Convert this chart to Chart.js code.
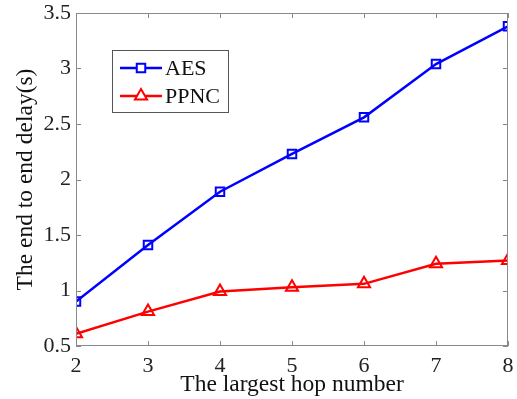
<!DOCTYPE html>
<html><head><meta charset="utf-8">
<script src="https://cdn.jsdelivr.net/npm/chart.js@4/dist/chart.umd.min.js"></script>
<style>html,body{margin:0;padding:0;background:#fff}#wrap{width:517px;height:399px}</style>
</head><body><div id="wrap"><canvas id="c" width="517" height="399"></canvas></div>
<script>
const hops = [2, 3, 4, 5, 6, 7, 8];
const aes = [0.90, 1.41, 1.89, 2.23, 2.56, 3.04, 3.38];
const ppnc = [0.61, 0.81, 0.99, 1.03, 1.06, 1.24, 1.27];
const yTicks = [0.5, 1, 1.5, 2, 2.5, 3, 3.5];
const xTitle = 'The largest hop number';
const yTitle = 'The end to end delay(s)';
const seriesNames = ['AES', 'PPNC'];

const FONT = 'Liberation Serif';

const framePlugin = {
  id: 'frame',
  afterDraw(chart) {
    const ctx = chart.ctx, a = chart.chartArea;
    const xs = chart.scales.x, ys = chart.scales.y;
    ctx.save();
    ctx.strokeStyle = '#8a8a8a';
    ctx.lineWidth = 1;
    ctx.strokeRect(a.left + 0.5, a.top + 0.5, a.right - a.left - 1, a.bottom - a.top - 1);
    const L = 5;
    ctx.beginPath();
    hops.forEach(v => {
      const px = Math.round(xs.getPixelForValue(v)) + 0.5;
      ctx.moveTo(px, a.bottom); ctx.lineTo(px, a.bottom - L);
      ctx.moveTo(px, a.top); ctx.lineTo(px, a.top + L);
    });
    yTicks.forEach(v => {
      const py = Math.round(ys.getPixelForValue(v)) + 0.5;
      ctx.moveTo(a.left, py); ctx.lineTo(a.left + L, py);
      ctx.moveTo(a.right, py); ctx.lineTo(a.right - L, py);
    });
    ctx.stroke();
    // legend box
    const bx = 112, by = 50, bw = 116, bh = 62;
    ctx.fillStyle = '#fff';
    ctx.fillRect(bx, by, bw, bh);
    ctx.strokeStyle = '#555';
    ctx.strokeRect(bx + 0.5, by + 0.5, bw, bh);
    chart.data.datasets.forEach((ds, i) => {
      const yy = 68 + i * 28;
      ctx.strokeStyle = ds.borderColor;
      ctx.lineWidth = 2.5;
      ctx.beginPath(); ctx.moveTo(120, yy); ctx.lineTo(162, yy); ctx.stroke();
      ctx.lineWidth = 2;
      ctx.fillStyle = '#fff';
      Chart.helpers.drawPoint(ctx, {pointStyle: ds.pointStyle, radius: ds.pointRadius, rotation: 0, borderWidth: 2}, 141, yy);
      ctx.fillStyle = '#111';
      ctx.font = '22px "' + FONT + '"';
      ctx.textBaseline = 'middle';
      ctx.textAlign = 'left';
      ctx.fillText(ds.label, 165, yy + 1);
    });
    ctx.restore();
  }
};

new Chart(document.getElementById('c'), {
  type: 'line',
  data: {
    datasets: [
      { label: seriesNames[0], data: hops.map((h, i) => ({x: h, y: aes[i]})),
        borderColor: '#0000ff', backgroundColor: 'rgba(0,0,0,0)', borderWidth: 2.5,
        pointStyle: 'rect', pointRadius: 6, pointBorderWidth: 2,
        pointBackgroundColor: 'rgba(0,0,0,0)', pointBorderColor: '#0000ff', tension: 0 },
      { label: seriesNames[1], data: hops.map((h, i) => ({x: h, y: ppnc[i]})),
        borderColor: '#ff0000', backgroundColor: 'rgba(0,0,0,0)', borderWidth: 2.5,
        pointStyle: 'triangle', pointRadius: 7, pointBorderWidth: 2,
        pointBackgroundColor: 'rgba(0,0,0,0)', pointBorderColor: '#ff0000', tension: 0 }
    ]
  },
  options: {
    responsive: false, animation: false, devicePixelRatio: 1,
    layout: { padding: { left: 4, right: 5, top: 13, bottom: 0 } },
    plugins: { legend: { display: false }, tooltip: { enabled: false } },
    scales: {
      x: {
        type: 'linear', min: 2, max: 8,
        afterBuildTicks: s => { s.ticks = hops.map(v => ({value: v})); },
        grid: { display: false, drawTicks: false },
        border: { display: false },
        ticks: { color: '#222', font: { family: FONT, size: 22 }, padding: 7, maxRotation: 0 },
        title: { display: true, text: xTitle, color: '#111', font: { family: FONT, size: 23.5 }, padding: { top: 0, bottom: 0 } },
        afterFit: s => { s.height = 53; s.paddingLeft = 0; s.paddingRight = 0; }
      },
      y: {
        type: 'linear', min: 0.5, max: 3.5,
        afterBuildTicks: s => { s.ticks = yTicks.map(v => ({value: v})); },
        grid: { display: false, drawTicks: false },
        border: { display: false },
        ticks: { color: '#222', font: { family: FONT, size: 22 }, padding: 5, callback: v => String(v) },
        title: { display: true, text: yTitle, color: '#111', font: { family: FONT, size: 23.5 }, padding: { top: 8, bottom: 0 } },
        afterFit: s => { s.width = 72; s.paddingTop = 0; s.paddingBottom = 0; }
      }
    }
  },
  plugins: [framePlugin]
});
</script>
</body></html>
